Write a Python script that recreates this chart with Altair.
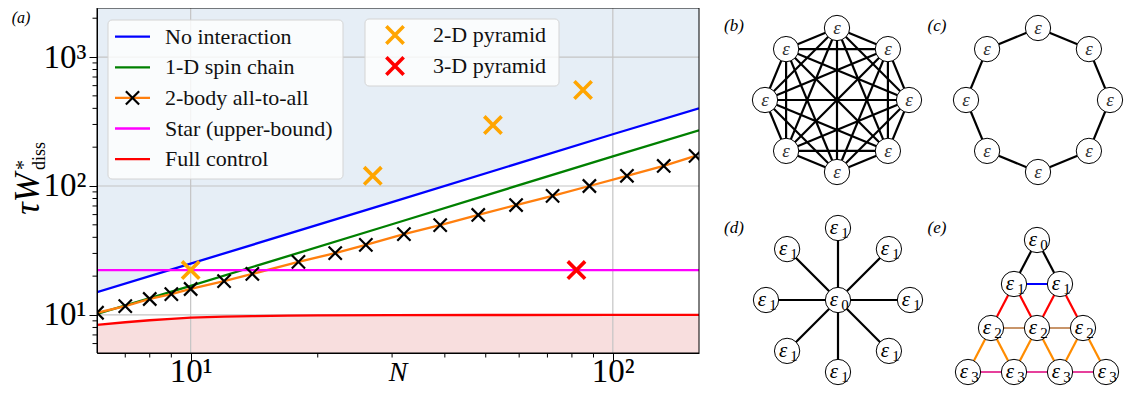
import altair as alt
import pandas as pd
import numpy as np

SERIF = "Liberation Serif"

# ---------------- data ----------------
no_int_N = [6, 10, 30, 100, 160]
no_int_W = [15.0, 25.0, 75.0, 252.0, 400.0]

chain_N = [6, 10, 30, 100, 160]
chain_W = [10.2, 16.8, 50.5, 170.0, 270.0]

a2a_N = [6, 7, 8, 9, 10, 12, 14, 18, 22, 26, 32, 39, 48, 59, 72, 88, 108, 132, 157]
a2a_W = [10.4, 11.7, 13.3, 14.5, 15.9, 18.3, 20.8, 25.8, 30.2, 34.9, 42.4, 49.8,
         59.6, 71.2, 83.7, 100.0, 120.0, 143.0, 171.0]

star_N = [6, 160]
star_W = [22.3, 22.3]

full_N = [6, 7, 8, 9, 10, 12, 14, 17, 20, 30, 50, 100, 160]
full_W = [8.37, 8.78, 9.1, 9.33, 9.53, 9.7, 9.78, 9.87, 9.92, 9.97, 9.99, 10.0, 10.0]

pyr2_N = [10, 27, 52, 85]
pyr2_W = [22.3, 120.0, 297.0, 555.0]

pyr3_N = [82]
pyr3_W = [22.3]

x_major = [10, 100]
y_major = [10, 100, 1000]
x_minor = [7, 8, 9, 20, 30, 40, 50, 60, 70, 80, 90]
y_minor = [6, 7, 8, 9, 20, 30, 40, 50, 60, 70, 80, 90,
           200, 300, 400, 500, 600, 700, 800, 900, 2000]

x_domain = [6, 160]
y_domain = [5.07, 2400]

legend1_labels = ["No interaction", "1-D spin chain", "2-body all-to-all",
                  "Star (upper-bound)", "Full control"]
legend1_colors = ["#0000ff", "#008000", "#ff7f0e", "#ff00ff", "#ff0000"]
legend2_labels = ["2-D pyramid", "3-D pyramid"]
legend2_colors = ["#ffa500", "#ff0000"]

# ---------------- layout ----------------
W, H = 602, 345
OX, OY = 97, 8          # page position of plot origin
SVG_W, SVG_H = 1117, 380
XPATH = "M -1 -1 L 1 1 M -1 1 L 1 -1"

xs = alt.Scale(type="log", domain=x_domain)
ys = alt.Scale(type="log", domain=y_domain)

x_axis = alt.Axis(values=x_major, title=None, grid=False,
                  labelExpr="datum.value == 10 ? '10¹' : '10²'",
                  labelFont=SERIF, labelFontSize=33, labelColor="black",
                  labelPadding=-6, tickSize=8, tickColor="black", tickWidth=1,
                  domainColor="black", domainWidth=1, zindex=1, labelOverlap=False)
y_axis = alt.Axis(values=y_major, title=None, grid=False,
                  labelExpr="datum.value == 10 ? '10¹' : (datum.value == 100 ? '10²' : '10³')",
                  labelFont=SERIF, labelFontSize=33, labelColor="black",
                  labelPadding=3, tickSize=8, tickColor="black", tickWidth=1,
                  domainColor="black", domainWidth=1, zindex=1, labelOverlap=False)


def XE(f):
    return alt.X(f"{f}:Q", scale=xs, axis=x_axis)


def YE(f):
    return alt.Y(f"{f}:Q", scale=ys, axis=y_axis)


def PX(f):
    return alt.X(f"{f}:Q", scale=None, axis=None)


def PY(f):
    return alt.Y(f"{f}:Q", scale=None, axis=None)


def series(n, w):
    return pd.DataFrame({"N": n, "W": w})


layers = []

# shaded regions
layers.append(alt.Chart(series(no_int_N, no_int_W)).mark_area(color="#e6eef6", clip=True)
              .encode(x=XE("N"), y=YE("W"), y2=alt.datum(y_domain[1])))
layers.append(alt.Chart(series(full_N, full_W)).mark_area(color="#f8dede", clip=True)
              .encode(x=XE("N"), y=YE("W"), y2=alt.datum(y_domain[0])))

# grid
layers.append(alt.Chart(pd.DataFrame({"v": x_major})).mark_rule(color="#c4c4c4", strokeWidth=1.2)
              .encode(x=XE("v")))
layers.append(alt.Chart(pd.DataFrame({"v": y_major})).mark_rule(color="#c4c4c4", strokeWidth=1.2)
              .encode(y=YE("v")))

# minor ticks
layers.append(alt.Chart(pd.DataFrame({"v": y_minor})).mark_rule(color="black", strokeWidth=1)
              .encode(y=YE("v"), x=alt.value(0), x2=alt.value(-4.5)))
layers.append(alt.Chart(pd.DataFrame({"v": x_minor})).mark_rule(color="black", strokeWidth=1)
              .encode(x=XE("v"), y=alt.value(H), y2=alt.value(H + 4.5)))

# lines
for n, w, c in [(no_int_N, no_int_W, "#0000ff"), (chain_N, chain_W, "#008000"),
                (a2a_N, a2a_W, "#ff7f0e"), (star_N, star_W, "#ff00ff"),
                (full_N, full_W, "#ff0000")]:
    layers.append(alt.Chart(series(n, w)).mark_line(color=c, strokeWidth=2.3, clip=True)
                  .encode(x=XE("N"), y=YE("W")))

# markers
layers.append(alt.Chart(series(a2a_N, a2a_W)).mark_point(shape=XPATH, color="black", size=175,
                                                         strokeWidth=2.2, opacity=1, clip=True)
              .encode(x=XE("N"), y=YE("W")))
layers.append(alt.Chart(series(pyr2_N, pyr2_W)).mark_point(shape=XPATH, color="#ffa500", size=300,
                                                           strokeWidth=3.6, opacity=1, clip=True)
              .encode(x=XE("N"), y=YE("W")))
layers.append(alt.Chart(series(pyr3_N, pyr3_W)).mark_point(shape=XPATH, color="#ff0000", size=300,
                                                           strokeWidth=3.6, opacity=1, clip=True)
              .encode(x=XE("N"), y=YE("W")))

# frame
one = pd.DataFrame({"a": [0]})
layers.append(alt.Chart(one).mark_rect(fillOpacity=0, stroke="black", strokeWidth=1)
              .encode(x=alt.value(0), x2=alt.value(W), y=alt.value(0), y2=alt.value(H)))

# ---------------- legends ----------------
layers.append(alt.Chart(one).mark_rect(fill="white", fillOpacity=0.8, stroke="#d4d4d4",
                                       strokeWidth=1, cornerRadius=4)
              .encode(x=alt.value(11), x2=alt.value(246), y=alt.value(12), y2=alt.value(171)))
leg1 = pd.DataFrame({"label": legend1_labels, "color": legend1_colors})
leg1["py"] = 28.7 + 30.6 * np.arange(len(leg1))
leg1["x1"] = 18
leg1["x2"] = 53
leg1["tx"] = 68
layers.append(alt.Chart(leg1).mark_rule(strokeWidth=2.3)
              .encode(x=PX("x1"), x2="x2:Q", y=PY("py"), color=alt.Color("color:N", scale=None)))
leg1m = leg1.iloc[[2]].assign(mx=35.5)
layers.append(alt.Chart(leg1m).mark_point(shape=XPATH, color="black", size=175, strokeWidth=2.2, opacity=1)
              .encode(x=PX("mx"), y=PY("py")))
layers.append(alt.Chart(leg1).mark_text(font=SERIF, fontSize=22, align="left", baseline="middle",
                                        color="#111111")
              .encode(x=PX("tx"), y=PY("py"), text="label:N"))

layers.append(alt.Chart(one).mark_rect(fill="white", fillOpacity=0.8, stroke="#d4d4d4",
                                       strokeWidth=1, cornerRadius=4)
              .encode(x=alt.value(268), x2=alt.value(462), y=alt.value(11), y2=alt.value(78)))
leg2 = pd.DataFrame({"label": legend2_labels, "color": legend2_colors})
leg2["py"] = 27 + 31 * np.arange(len(leg2))
leg2["mx"] = 298
leg2["tx"] = 336
layers.append(alt.Chart(leg2).mark_point(shape=XPATH, size=300, strokeWidth=3.6, opacity=1)
              .encode(x=PX("mx"), y=PY("py"), color=alt.Color("color:N", scale=None)))
layers.append(alt.Chart(leg2).mark_text(font=SERIF, fontSize=22, align="left", baseline="middle",
                                        color="#111111")
              .encode(x=PX("tx"), y=PY("py"), text="label:N"))


# ---------------- titles ----------------
def txt(s, x, y, size, italic=True, angle=None, align="center", baseline="middle"):
    kw = dict(text=s, font=SERIF, fontSize=size, align=align, baseline=baseline, color="black")
    if italic:
        kw["fontStyle"] = "italic"
    if angle is not None:
        kw["angle"] = angle
    return alt.Chart(one).mark_text(**kw).encode(x=alt.value(x), y=alt.value(y))


layers.append(txt("(a)", 21 - OX, 18 - OY, 16))
layers.append(txt("N", 398 - OX, 381 - OY, 28, baseline="alphabetic"))
layers.append(txt("τW", 39 - OX, 194 - OY, 35, angle=270, baseline="alphabetic"))
layers.append(txt("*", 30 - OX, 170 - OY, 20, italic=False, angle=270, align="left", baseline="alphabetic"))
layers.append(txt("diss", 45 - OX, 170 - OY, 18, italic=False, angle=270, align="left", baseline="alphabetic"))


# ---------------- graph diagrams ----------------
def ring(cx, cy, R, n=8):
    ang = np.deg2rad(90 - 360 / n * np.arange(n))
    return cx + R * np.cos(ang), cy - R * np.sin(ang)


nodes = []   # px, py, main, sub
edges = []   # x1, y1, x2, y2, color

# (b) all-to-all
bx, by = ring(837, 100, 72)
for i in range(8):
    nodes.append((bx[i], by[i], "ε", ""))
    for j in range(i + 1, 8):
        edges.append((bx[i], by[i], bx[j], by[j], "black"))
# (c) ring
cx_, cy_ = ring(1038, 100, 72)
for i in range(8):
    nodes.append((cx_[i], cy_[i], "ε", ""))
    j = (i + 1) % 8
    edges.append((cx_[i], cy_[i], cx_[j], cy_[j], "black"))
# (d) star
dcx, dcy = 838, 300
dx_, dy_ = ring(dcx, dcy, 72)
for i in range(8):
    nodes.append((dx_[i], dy_[i], "ε", "1"))
    edges.append((dcx, dcy, dx_[i], dy_[i], "black"))
nodes.append((dcx, dcy, "ε", "0"))
# (e) 2-D pyramid
ex, etop, edx, edy = 1037, 240, 46, 44
row_col = {1: "#0000ff", 2: "#c8956a", 3: "#e6409b"}
down_col = {0: "black", 1: "#ff0000", 2: "#ff8c00"}


def epos(r, k):
    return ex + (k - r / 2) * edx, etop + r * edy


for r in range(4):
    for k in range(r + 1):
        x0, y0 = epos(r, k)
        nodes.append((x0, y0, "ε", str(r)))
        if k < r:
            x1, y1 = epos(r, k + 1)
            edges.append((x0, y0, x1, y1, row_col[r]))
        if r < 3:
            for kk in (k, k + 1):
                x1, y1 = epos(r + 1, kk)
                edges.append((x0, y0, x1, y1, down_col[r]))

edf = pd.DataFrame(edges, columns=["x1", "y1", "x2", "y2", "color"])
edf[["x1", "x2"]] -= OX
edf[["y1", "y2"]] -= OY
ndf = pd.DataFrame(nodes, columns=["px", "py", "main", "sub"])
ndf["px"] -= OX
ndf["py"] -= OY

layers.append(alt.Chart(edf).mark_rule(strokeWidth=2.2)
              .encode(x=PX("x1"), y=PY("y1"), x2="x2:Q", y2="y2:Q",
                      color=alt.Color("color:N", scale=None)))
layers.append(alt.Chart(ndf).mark_point(shape="circle", filled=True, fill="white", stroke="black",
                                        strokeWidth=1, size=640, opacity=1)
              .encode(x=PX("px"), y=PY("py")))
plain = ndf[ndf["sub"] == ""]
subd = ndf[ndf["sub"] != ""].copy()
subd["mx"] = subd["px"] - 4
subd["sx"] = subd["px"] + 7
subd["sy"] = subd["py"] + 5
layers.append(alt.Chart(plain).mark_text(font=SERIF, fontStyle="italic", fontSize=19, color="#333333",
                                         baseline="middle", align="center")
              .encode(x=PX("px"), y=PY("py"), text="main:N"))
layers.append(alt.Chart(subd).mark_text(font=SERIF, fontStyle="italic", fontSize=21, color="black",
                                        baseline="middle", align="center")
              .encode(x=PX("mx"), y=PY("py"), text="main:N"))
layers.append(alt.Chart(subd).mark_text(font=SERIF, fontSize=15, color="black",
                                        baseline="middle", align="center")
              .encode(x=PX("sx"), y=PY("sy"), text="sub:N"))

for s, x, y in [("(b)", 734, 26), ("(c)", 937, 26), ("(d)", 734, 228), ("(e)", 937, 228)]:
    layers.append(txt(s, x - OX, y - OY, 17))

chart = (alt.layer(*layers)
         .properties(width=W, height=H,
                     autosize=alt.AutoSizeParams(type="none"),
                     padding={"left": OX - 8, "top": OY - 8,
                              "right": SVG_W - (OX - 8) - W,
                              "bottom": SVG_H - (OY - 8) - H})
         .configure_view(stroke=None))

chart.save("out.html", embed_options={"renderer": "svg", "actions": False})
